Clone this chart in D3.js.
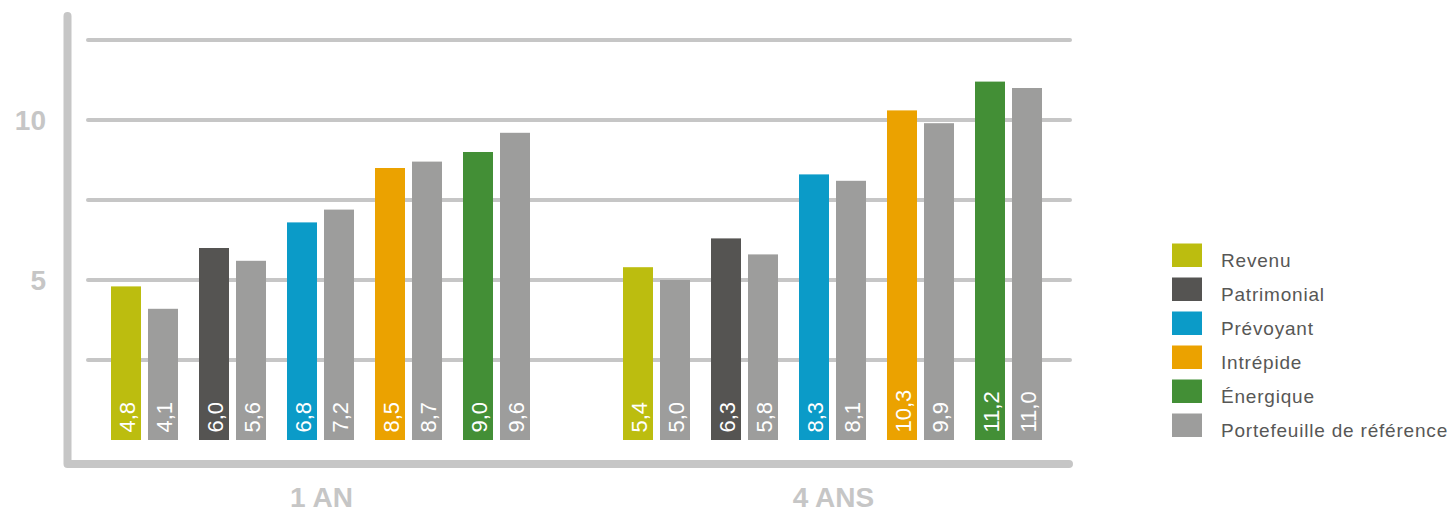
<!DOCTYPE html>
<html>
<head>
<meta charset="utf-8">
<script src="https://cdn.jsdelivr.net/npm/d3@7/dist/d3.min.js"></script>
<style>
  body { margin: 0; background: #fff; }
  svg { display: block; }
</style>
</head>
<body>
<script>
// Data
var periods = ["1 AN", "4 ANS"];
var funds = ["Revenu", "Patrimonial", "Prévoyant", "Intrépide", "Énergique"];
var refName = "Portefeuille de référence";
var fundValues = {
    "1 AN":  [4.8, 6.0, 6.8, 8.5, 9.0],
    "4 ANS": [5.4, 6.3, 8.3, 10.3, 11.2]
};
var refValues = {
    "1 AN":  [4.1, 5.6, 7.2, 8.7, 9.6],
    "4 ANS": [5.0, 5.8, 8.1, 9.9, 11.0]
};
var gridValues = [2.5, 5, 7.5, 10, 12.5];
var tickLabels = [5, 10];

var fundColors = ["#bcbd0f", "#555452", "#0b9bc8", "#eba200", "#438f36"];
var refColor = "#9d9d9c";
var axisColor = "#c6c6c6";

var width = 1451, height = 512;

var svg = d3.select("body").append("svg")
    .attr("width", width)
    .attr("height", height);

// Scales
var yScale = d3.scaleLinear().domain([0, 12.5]).range([440, 40]);
var x0 = d3.scaleBand().domain(periods).range([64.5, 1088.5]);
var x1 = d3.scaleBand().domain(funds).range([-220, 220])
    .paddingInner(21 / 88).paddingOuter(10.5 / 88);
var x2 = d3.scaleBand().domain(["fund", "ref"]).range([0, x1.bandwidth()])
    .paddingInner(7 / 37);
var color = d3.scaleOrdinal().domain(funds).range(fundColors);

var fr = d3.formatLocale({decimal: ",", thousands: " ", grouping: [3], currency: ["", " €"]});
var fmt = fr.format(".1f");

// Gridlines
svg.append("g").selectAll("line")
    .data(gridValues)
    .enter().append("line")
    .attr("x1", 88).attr("x2", 1070)
    .attr("y1", function(d) { return yScale(d); })
    .attr("y2", function(d) { return yScale(d); })
    .attr("stroke", axisColor)
    .attr("stroke-width", 4)
    .attr("stroke-linecap", "round");

// Axis frame (left + bottom)
svg.append("path")
    .attr("d", "M67.5,16 L67.5,464 L1069,464")
    .attr("fill", "none")
    .attr("stroke", axisColor)
    .attr("stroke-width", 8)
    .attr("stroke-linecap", "round")
    .attr("stroke-linejoin", "round");

// Y tick labels
svg.append("g").selectAll("text")
    .data(tickLabels)
    .enter().append("text")
    .attr("x", 46)
    .attr("y", function(d) { return yScale(d) + 10; })
    .attr("text-anchor", "end")
    .style("font-family", "Liberation Sans, Arial, sans-serif")
    .style("font-weight", "bold")
    .style("font-size", "28px")
    .style("fill", axisColor)
    .text(function(d) { return d; });

// Bars
var barData = [];
periods.forEach(function(p) {
    funds.forEach(function(f, i) {
        barData.push({period: p, fund: f, kind: "fund", value: fundValues[p][i], color: color(f)});
        barData.push({period: p, fund: f, kind: "ref", value: refValues[p][i], color: refColor});
    });
});

function barX(d) {
    return x0(d.period) + x0.bandwidth() / 2 + x1(d.fund) + x2(d.kind);
}

var bars = svg.append("g").selectAll("g.bar")
    .data(barData)
    .enter().append("g").attr("class", "bar");

bars.append("rect")
    .attr("x", barX)
    .attr("width", x2.bandwidth())
    .attr("y", function(d) { return yScale(d.value); })
    .attr("height", function(d) { return yScale(0) - yScale(d.value); })
    .attr("fill", function(d) { return d.color; });

bars.append("text")
    .attr("transform", function(d) {
        return "translate(" + (barX(d) + x2.bandwidth() / 2 + 8.5) + "," + (yScale(0) - 7.5) + ") rotate(-90)";
    })
    .style("font-family", "Liberation Sans, Arial, sans-serif")
    .style("font-size", "22px")
    .style("fill", "#fff")
    .text(function(d) { return fmt(d.value); });

// Period labels
svg.append("g").selectAll("text")
    .data(periods)
    .enter().append("text")
    .attr("x", function(d) { return x0(d) + x0.bandwidth() / 2 + 1; })
    .attr("y", 507)
    .attr("text-anchor", "middle")
    .style("font-family", "Liberation Sans, Arial, sans-serif")
    .style("font-weight", "bold")
    .style("font-size", "28px")
    .style("fill", axisColor)
    .text(function(d) { return d; });

// Legend
var legendItems = funds.map(function(f) { return {name: f, color: color(f)}; });
legendItems.push({name: refName, color: refColor});

var legend = svg.append("g").selectAll("g")
    .data(legendItems)
    .enter().append("g")
    .attr("transform", function(d, i) { return "translate(1172," + (243.5 + i * 34) + ")"; });

legend.append("rect")
    .attr("width", 30)
    .attr("height", 23.5)
    .attr("fill", function(d) { return d.color; });

legend.append("text")
    .attr("x", 49)
    .attr("y", 23)
    .style("font-family", "Liberation Sans, Arial, sans-serif")
    .style("font-size", "19px")
    .style("letter-spacing", "0.8px")
    .style("fill", "#575756")
    .text(function(d) { return d.name; });
</script>
</body>
</html>
